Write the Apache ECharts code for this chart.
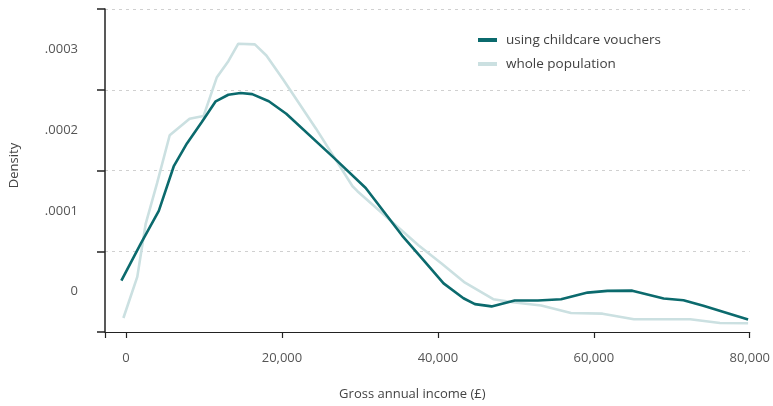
<!DOCTYPE html>
<html>
<head>
<meta charset="utf-8">
<script src="https://cdn.jsdelivr.net/npm/echarts@6/dist/echarts.min.js"></script>
<style>
  html, body { margin: 0; padding: 0; background: #fff; }
  #chart { width: 773px; height: 406px; }
</style>
</head>
<body>
<div id="chart"></div>
<script>
// Series names
const seriesNames = ['using childcare vouchers', 'whole population'];

// using childcare vouchers: income (£) and density
const vouchersIncome = [-600, 1870, 4200, 6110, 7810, 9720, 11500, 13120, 14690, 16180, 18310, 20550, 26500, 30740, 35410, 38180, 40730, 43280, 44750, 46880, 49850, 52830, 55800, 59200, 61750, 64930, 68960, 71500, 74050, 79790];
const vouchersDensity = [0.0000135, 0.0000591, 0.0000999, 0.000155, 0.0001835, 0.00021, 0.0002357, 0.0002438, 0.0002459, 0.0002446, 0.0002357, 0.0002202, 0.0001672, 0.0001284, 0.0000694, 0.0000388, 0.0000102, -0.0000082, -0.0000155, -0.0000183, -0.000011, -0.000011, -0.0000094, -0.0000012, 0.0000009, 0.0000012, -0.0000086, -0.0000106, -0.0000175, -0.0000346];

// whole population: income (£) and density
const populationIncome = [-340, 1440, 2510, 3990, 5600, 8150, 9940, 11630, 13120, 14400, 16520, 18000, 20130, 24370, 29050, 29680, 37540, 40510, 43480, 47100, 49850, 53250, 57070, 61110, 65140, 72360, 76180, 79790];
const populationDensity = [-0.0000327, 0.0000183, 0.0000835, 0.0001346, 0.0001936, 0.0002141, 0.0002174, 0.0002651, 0.0002854, 0.000307, 0.0003062, 0.0002924, 0.000263, 0.0002018, 0.0001305, 0.0001244, 0.0000571, 0.0000346, 0.000011, -0.0000094, -0.0000135, -0.0000171, -0.0000265, -0.0000273, -0.0000343, -0.0000343, -0.0000388, -0.0000391];

// Axis ticks and labels
const xTickValues = [-2700, 0, 20000, 40000, 60000, 80000];
const xLabelValues = [0, 20000, 40000, 60000, 80000];
const yTickValues = [-0.00005, 0.00005, 0.00015, 0.00025, 0.00035];
const yLabelValues = [0, 0.0001, 0.0002, 0.0003];
const yLabelTexts = ['0', '.0001', '.0002', '.0003'];

const zip = (a, b) => a.map((v, i) => [v, b[i]]);

const chart = echarts.init(document.getElementById('chart'), null, { renderer: 'canvas' });
const font = 'Open Sans';
chart.setOption({
  animation: false,
  textStyle: { fontFamily: font },
  grid: { left: 101, right: 23, top: 9, bottom: 70, containLabel: false },
  legend: {
    orient: 'vertical',
    left: 473,
    top: 28,
    itemWidth: 19,
    itemHeight: 4,
    itemGap: 10,
    icon: 'rect',
    data: seriesNames,
    textStyle: { fontFamily: font, fontSize: 13.5, color: '#3f3f3f', padding: [0, 0, 0, 4] }
  },
  xAxis: {
    type: 'value',
    min: -2700,
    max: 80000,
    name: 'Gross annual income (£)',
    nameLocation: 'middle',
    nameGap: 56,
    nameTextStyle: { fontFamily: font, fontSize: 13, color: '#444', padding: [0, 30, 0, 0] },
    axisLine: { show: true, onZero: false, lineStyle: { color: '#222', width: 1.2 } },
    axisTick: { show: true, length: 6, customValues: xTickValues, lineStyle: { color: '#222', width: 1.2 } },
    axisLabel: {
      customValues: xLabelValues,
      margin: 20,
      fontFamily: font, fontSize: 13, color: '#555',
      formatter: v => v.toLocaleString('en-GB')
    },
    splitLine: { show: false }
  },
  yAxis: {
    type: 'value',
    min: -0.00005,
    max: 0.00035,
    name: 'Density',
    nameLocation: 'middle',
    nameGap: 84,
    nameRotate: 90,
    nameTextStyle: { fontFamily: font, fontSize: 13, color: '#444', padding: [0, 0, 0, 10] },
    axisLine: { show: true, onZero: false, lineStyle: { color: '#222', width: 1.5 } },
    axisTick: { show: true, length: 8, customValues: yTickValues, lineStyle: { color: '#222', width: 1.5 } },
    axisLabel: {
      customValues: yLabelValues,
      margin: 27,
      fontFamily: font, fontSize: 13, color: '#555',
      formatter: v => {
        const i = yLabelValues.findIndex(x => Math.abs(x - v) < 1e-9);
        return i >= 0 ? yLabelTexts[i] : '';
      }
    },
    splitLine: { show: true, lineStyle: { color: '#d0d0d0', type: [3, 4], width: 1 } }
  },
  series: [
    {
      name: seriesNames[1],
      type: 'line',
      data: zip(populationIncome, populationDensity),
      showSymbol: false,
      symbol: 'none',
      lineStyle: { color: '#cbe0e1', width: 2.6 },
      itemStyle: { color: '#cbe0e1' },
      z: 2
    },
    {
      name: seriesNames[0],
      type: 'line',
      data: zip(vouchersIncome, vouchersDensity),
      showSymbol: false,
      symbol: 'none',
      lineStyle: { color: '#0b6a6d', width: 2.6 },
      itemStyle: { color: '#0b6a6d' },
      z: 3
    }
  ]
});
</script>
</body>
</html>
